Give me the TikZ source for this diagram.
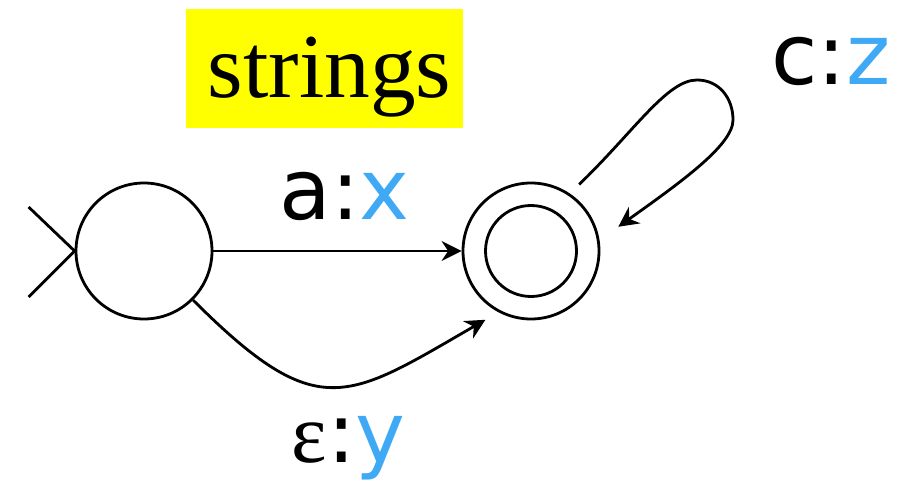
\documentclass[tikz,border=0pt]{standalone}
\usepackage{fontspec}
\usepackage{xcolor}
\usetikzlibrary{arrows.meta,positioning,calc}
\newfontfamily\labfont{DejaVu Sans}
\newfontfamily\serifont{Liberation Serif}
\definecolor{outBlue}{HTML}{3FA9F5}
\definecolor{tagYellow}{HTML}{FFFF00}
\newcommand{\outsym}[1]{\textcolor{outBlue}{#1}}

\begin{document}
\begin{tikzpicture}[
  state/.style={draw, circle, line width=0.8pt, minimum size=1.36cm, inner sep=0pt},
  lab/.style={font=\labfont\fontsize{24}{28}\selectfont, inner sep=0pt},
  tag/.style={fill=tagYellow, minimum width=2.77cm, minimum height=1.19cm, inner sep=0pt,
    text height=0.7cm, text depth=0.11cm, font=\serifont\fontsize{26}{30}\selectfont},
  arr/.style={-{Stealth[length=2mm, width=2mm]}, line width=0.8pt}
]
\useasboundingbox (0,0) rectangle (9.10,4.85);
\node[state] (s0) at (1.44,2.34) {};
\node[state] (s1) at (5.31,2.34) {};
\draw[line width=0.8pt] (s1) circle[radius=0.455cm];
\node[tag] (title) at (3.245,4.165) {\hspace{0.1cm}strings};
% start marker
\draw[line width=0.8pt] (s0.west) -- ++(-0.46,0.44);
\draw[line width=0.8pt] (s0.west) -- ++(-0.46,-0.46);
% transitions
\draw[arr] (s0) -- node[lab, above=0.29cm, xshift=0.07cm]{a:\outsym{x}} (s1);
\draw[arr, shorten >=0.15cm] (s0.-45) .. controls +(-45:1.77) and +(210:1.75) .. node[lab, below=0.29cm, xshift=0.13cm, pos=0.5]{{\serifont ε}:\outsym{y}} (s1.242);
\coordinate (looptop) at (6.97,4.05);
\coordinate (loopright) at (7.33,3.65);
\draw[arr, shorten <=0.13cm, shorten >=0.23cm] (s1.56) .. controls +(44:0.9) and +(180:0.3) .. (looptop)
  .. controls +(0:0.22) and +(90:0.22) .. (loopright)
  .. controls +(-90:0.25) and +(35.5:1.0) .. (s1.9);
\node[lab, anchor=base] (loopc) at (8.31,4.00) {c:\outsym{z}};
\end{tikzpicture}
\end{document}
